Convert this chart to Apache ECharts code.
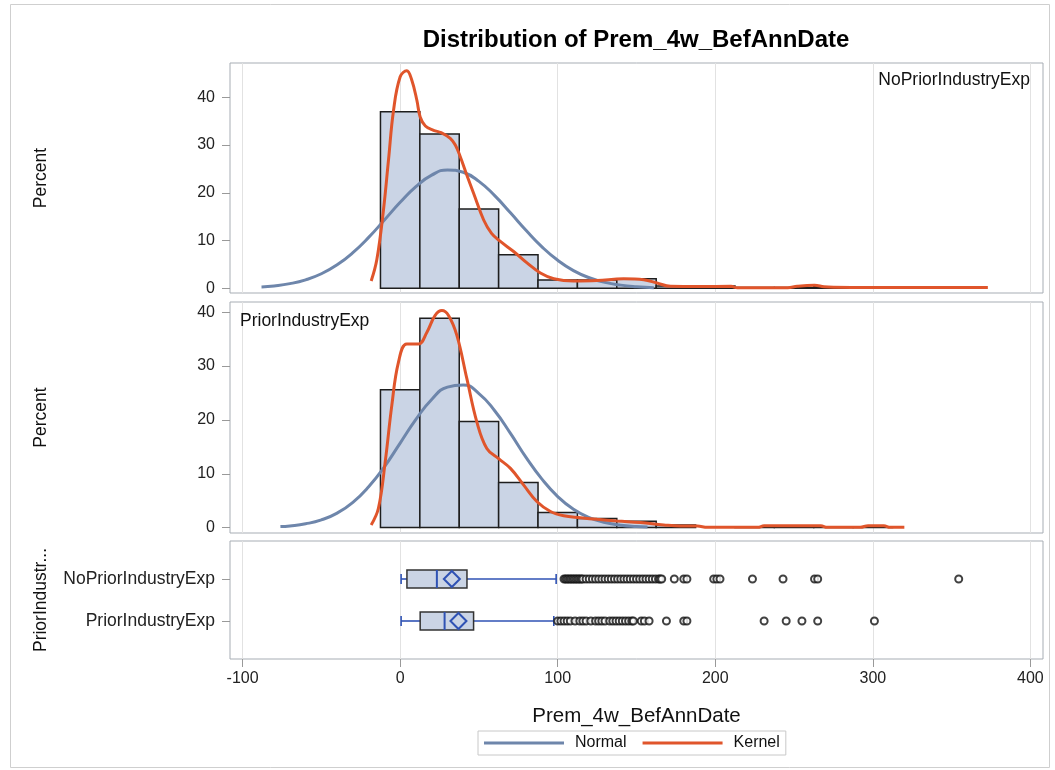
<!DOCTYPE html>
<html>
<head>
<meta charset="utf-8">
<script src="https://cdn.jsdelivr.net/npm/echarts@6/dist/echarts.min.js"></script>
<style>
html,body{margin:0;padding:0;background:#fff}
#main{width:1055px;height:770px}
</style>
</head>
<body>
<div id="main"></div>
<script>
// histogram bins (midpoints, width 25) and percents per group
const binMids = [0, 25, 50, 75, 100, 125, 150, 175, 200, 225, 250, 275, 300, 325, 350];
const binWidth = 25;
const histNoPrior = [37.0, 32.3, 16.6, 7.0, 1.7, 1.7, 2.0, 0.45, 0.45, 0.15, 0.15, 0.3, 0, 0, 0.15];
const histPrior = [25.6, 38.9, 19.7, 8.4, 2.8, 1.7, 1.2, 0.5, 0, 0.17, 0.33, 0.17, 0.17, 0, 0];

// fitted curves [x, percent]
const normalNoPrior = [[-88,0.28],[-80,0.49],[-70,0.96],[-60,1.76],[-50,3.03],[-40,4.91],[-30,7.46],[-20,10.65],[-10,14.3],[0,18.0],[10,21.3],[20,23.7],[30,24.8],[40,24.3],[50,22.4],[60,19.4],[70,15.8],[80,12.1],[90,8.67],[100,5.85],[110,3.7],[120,2.2],[130,1.23],[140,0.65],[150,0.32],[161,0.12]];
const kernelNoPrior = [[-18.4,1.5],[-14.8,6.0],[-10.6,16.4],[-7.4,26.9],[-4.2,37.3],[0,44.3],[4.2,45.6],[7.4,43.6],[10.6,39.4],[12.7,35.9],[16,34.0],[21.2,33.1],[26,32.6],[31.8,31.4],[35,30.0],[38.1,27.6],[42,24.0],[46.6,19.9],[53,14.3],[58,11.5],[63.6,9.8],[72,7.7],[80.5,5.3],[89,3.2],[97.5,2.0],[110,1.5],[125,1.6],[141.8,2.0],[154.6,1.8],[163,1.1],[171.6,0.4],[190,0.35],[210,0.4],[214,0.1],[246,0.1],[252,0.4],[263,0.6],[269,0.3],[275,0.2],[300,0.15],[340,0.15],[373,0.15]];
const normalPrior = [[-76,0.2],[-70,0.32],[-60,0.71],[-50,1.43],[-40,2.7],[-30,4.7],[-20,7.6],[-10,11.3],[0,15.7],[10,20.1],[20,23.8],[30,26.1],[40,26.5],[50,24.9],[60,21.7],[70,17.5],[80,13.0],[90,9.0],[100,5.76],[110,3.4],[120,1.86],[130,0.94],[140,0.44],[150,0.19],[157,0.1]];
const kernelPrior = [[-18.4,0.5],[-13.8,3.6],[-9.5,12.2],[-5.3,22.7],[-1.1,30.7],[4.2,34.1],[11.6,34.1],[17,36.3],[22.2,39.4],[26.5,40.3],[30.7,39.4],[36,35.7],[42.3,27.7],[48.7,19.6],[55,14.7],[62.5,12.8],[70,11.0],[78.4,7.9],[86.9,4.8],[95.4,3.0],[103.8,2.2],[114.4,1.85],[125,1.54],[137.7,1.23],[152.6,0.93],[167.3,0.5],[178,0.3],[188.6,0.3],[195,0.05],[227,0.05],[231,0.35],[267,0.35],[271,0.05],[292,0.05],[297,0.35],[307,0.35],[311,0.05],[320,0.05]];

// box plot: row, whisker low, q1, median, q3, whisker high, mean
const groups = ['NoPriorIndustryExp', 'PriorIndustryExp'];
const boxStats = [
  [1, 0.6, 4.3, 23.3, 42.4, 99, 32.8],
  [2, 0.6, 12.7, 28.2, 46.6, 97.5, 37]
];
const outNoPrior = [104,105,106,107,108,109,110,111,112,113,114,115,116,118,120,122,124,126,128,130,132,134,136,138,140,142,144,146,148,150,152,154,156,158,160,162,164,165,166,174,180,182,199,201,203,223.6,243,263,265,354.5];
const outPrior = [100,102,104,106,108,111,114,116,118,121,124,126,128,130,133,135,137,139,141,143,145,147,148,153,155,158,169,180,182,231,245,255,265,301];

const xTicks = [-100, 0, 100, 200, 300, 400];
const yTicks = [0, 10, 20, 30, 40];

const font = '"Liberation Sans", Arial, sans-serif';
const normalColor = '#6e86ab';
const kernelColor = '#e0552b';
const boxBlue = '#2f52b4';

let chart = echarts.init(document.getElementById('main'));

function histItem(params, api) {
  let x = api.value(0), h = api.value(1);
  if (!(h > 0)) return null;
  let p0 = api.coord([x - binWidth / 2, h]);
  let p1 = api.coord([x + binWidth / 2, 0]);
  return {
    type: 'rect',
    shape: {x: p0[0], y: p0[1], width: p1[0] - p0[0], height: p1[1] - p0[1]},
    style: {fill: '#cad4e5', stroke: '#1e1e1e', lineWidth: 1.5}
  };
}

function boxItem(params, api) {
  let row = api.value(0);
  let px = v => api.coord([v, row])[0];
  let y = api.coord([0, row])[1];
  let xl = px(api.value(1)), q1 = px(api.value(2)), md = px(api.value(3));
  let q3 = px(api.value(4)), xh = px(api.value(5)), mn = px(api.value(6));
  let half = 9, cap = 5, d = 8;
  let blue = {stroke: boxBlue, lineWidth: 1.6, fill: null};
  return {
    type: 'group',
    children: [
      {type: 'line', shape: {x1: xl, y1: y, x2: q1, y2: y}, style: blue},
      {type: 'line', shape: {x1: q3, y1: y, x2: xh, y2: y}, style: blue},
      {type: 'line', shape: {x1: xl, y1: y - cap, x2: xl, y2: y + cap}, style: blue},
      {type: 'line', shape: {x1: xh, y1: y - cap, x2: xh, y2: y + cap}, style: blue},
      {type: 'rect', shape: {x: q1, y: y - half, width: q3 - q1, height: half * 2}, style: {fill: '#cad4e5', stroke: '#333', lineWidth: 1.5}},
      {type: 'line', shape: {x1: md, y1: y - half, x2: md, y2: y + half}, style: {stroke: boxBlue, lineWidth: 2}},
      {type: 'polygon', shape: {points: [[mn, y - d], [mn + d, y], [mn, y + d], [mn - d, y]]}, style: {stroke: boxBlue, lineWidth: 2, fill: null}}
    ]
  };
}

function mkX(i, last) {
  return {
    type: 'value', gridIndex: i, min: -108, max: 408,
    axisLine: {show: false, onZero: false},
    axisTick: {show: last, customValues: xTicks, length: 8, lineStyle: {color: '#999'}},
    axisLabel: {show: last, customValues: xTicks, fontSize: 16, color: '#222', margin: 12, fontFamily: font},
    splitLine: {show: true, lineStyle: {color: '#e2e2e2'}},
    name: last ? 'Prem_4w_BefAnnDate' : '',
    nameLocation: 'middle', nameGap: 47,
    nameTextStyle: {fontSize: 20.5, color: '#111', fontFamily: font}
  };
}

function mkY(i, max) {
  return {
    type: 'value', gridIndex: i, min: -1, max: max,
    axisLine: {show: false, onZero: false},
    axisTick: {show: true, customValues: yTicks, length: 8, lineStyle: {color: '#999'}},
    axisLabel: {customValues: yTicks, fontSize: 16, color: '#222', margin: 15, fontFamily: font},
    splitLine: {show: false},
    name: 'Percent', nameLocation: 'middle', nameGap: 180,
    nameTextStyle: {fontSize: 17.5, color: '#111', fontFamily: font}
  };
}

let gridBase = {left: 230, right: 12, show: true, borderColor: '#a7adb4', borderWidth: 1, backgroundColor: '#fff'};

let option = {
  backgroundColor: '#fff',
  animation: false,
  textStyle: {fontFamily: font},
  grid: [
    Object.assign({top: 63, height: 230}, gridBase),
    Object.assign({top: 302, height: 231}, gridBase),
    Object.assign({top: 541, height: 118}, gridBase)
  ],
  xAxis: [mkX(0, false), mkX(1, false), mkX(2, true)],
  yAxis: [
    mkY(0, 47.2),
    mkY(1, 41.9),
    {
      type: 'value', gridIndex: 2, min: 0.095, max: 2.905, inverse: true,
      axisLine: {show: false, onZero: false},
      axisTick: {show: true, customValues: [1, 2], length: 8, lineStyle: {color: '#999'}},
      axisLabel: {customValues: [1, 2], fontSize: 17.5, color: '#222', margin: 15, fontFamily: font,
        formatter: v => groups[v - 1]},
      splitLine: {show: false},
      name: 'PriorIndustr...', nameLocation: 'middle', nameGap: 180,
      nameTextStyle: {fontSize: 17.5, color: '#111', fontFamily: font}
    }
  ],
  legend: {
    top: 731, left: 478,
    data: [{name: 'Normal', icon: 'rect'}, {name: 'Kernel', icon: 'rect'}],
    itemWidth: 80, itemHeight: 3, itemGap: 16,
    borderColor: '#c8c8c8', borderWidth: 1, padding: [4, 6],
    textStyle: {fontSize: 16, color: '#111', fontFamily: font, padding: [0, 4, 0, 6]}
  },
  graphic: [
    {type: 'rect', left: 8, top: 2, shape: {width: 1039, height: 763}, style: {fill: null, stroke: '#cfcfcf', lineWidth: 1}, silent: true},
    {type: 'text', x: 636, y: 40, style: {text: 'Distribution of Prem_4w_BefAnnDate', font: 'bold 24px ' + font, fill: '#000', textAlign: 'center', textVerticalAlign: 'middle'}},
    {type: 'text', x: 1030, y: 80, style: {text: 'NoPriorIndustryExp', font: '17.5px ' + font, fill: '#111', textAlign: 'right', textVerticalAlign: 'middle'}, z: 10},
    {type: 'text', x: 240, y: 321, style: {text: 'PriorIndustryExp', font: '17.5px ' + font, fill: '#111', textAlign: 'left', textVerticalAlign: 'middle'}, z: 10}
  ],
  series: [
    {type: 'custom', name: 'hist1', xAxisIndex: 0, yAxisIndex: 0, renderItem: histItem, encode: {x: 0, y: 1},
      data: binMids.map((m, i) => [m, histNoPrior[i]]), z: 1},
    {type: 'custom', name: 'hist2', xAxisIndex: 1, yAxisIndex: 1, renderItem: histItem, encode: {x: 0, y: 1},
      data: binMids.map((m, i) => [m, histPrior[i]]), z: 1},
    {type: 'line', name: 'Normal', xAxisIndex: 0, yAxisIndex: 0, data: normalNoPrior, smooth: true, showSymbol: false,
      lineStyle: {color: normalColor, width: 3}, itemStyle: {color: normalColor}, z: 3},
    {type: 'line', name: 'Kernel', xAxisIndex: 0, yAxisIndex: 0, data: kernelNoPrior, smooth: 0.4, showSymbol: false,
      lineStyle: {color: kernelColor, width: 3}, itemStyle: {color: kernelColor}, z: 4},
    {type: 'line', name: 'Normal', xAxisIndex: 1, yAxisIndex: 1, data: normalPrior, smooth: true, showSymbol: false,
      lineStyle: {color: normalColor, width: 3}, itemStyle: {color: normalColor}, z: 3},
    {type: 'line', name: 'Kernel', xAxisIndex: 1, yAxisIndex: 1, data: kernelPrior, smooth: 0.4, showSymbol: false,
      lineStyle: {color: kernelColor, width: 3}, itemStyle: {color: kernelColor}, z: 4},
    {type: 'custom', name: 'box', xAxisIndex: 2, yAxisIndex: 2, renderItem: boxItem,
      encode: {x: [1, 2, 3, 4, 5, 6], y: 0}, data: boxStats, z: 3},
    {type: 'scatter', name: 'out1', xAxisIndex: 2, yAxisIndex: 2, symbol: 'circle', symbolSize: 7,
      itemStyle: {color: '#fff', borderColor: '#111', borderWidth: 2}, data: outNoPrior.map(v => [v, 1]), z: 4},
    {type: 'scatter', name: 'out2', xAxisIndex: 2, yAxisIndex: 2, symbol: 'circle', symbolSize: 7,
      itemStyle: {color: '#fff', borderColor: '#111', borderWidth: 2}, data: outPrior.map(v => [v, 2]), z: 4}
  ]
};

chart.setOption(option);
</script>
</body>
</html>
